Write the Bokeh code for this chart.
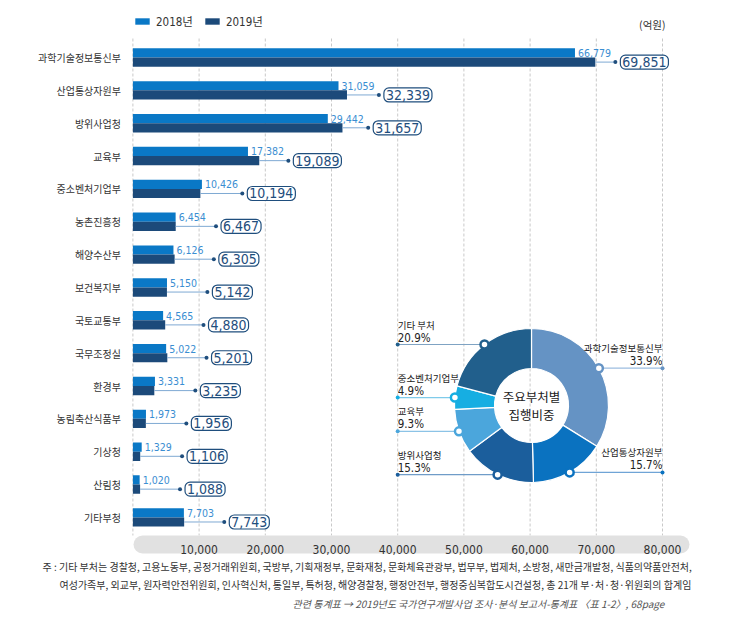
import numpy as np
from bokeh.plotting import figure
from bokeh.models import (Range1d, LinearAxis, FixedTicker, Legend, LegendItem,
                          ColumnDataSource, NumeralTickFormatter)
from bokeh.core.properties import value
from bokeh.embed import file_html
from bokeh.resources import INLINE

# ---------------- data ----------------
categories = ["과학기술정보통신부", "산업통상자원부", "방위사업청", "교육부", "중소벤처기업부",
              "농촌진흥청", "해양수산부", "보건복지부", "국토교통부", "국무조정실",
              "환경부", "농림축산식품부", "기상청", "산림청", "기타부청"]
v2018 = [66779, 31059, 29442, 17382, 10426, 6454, 6126, 5150, 4565, 5022, 3331, 1973, 1329, 1020, 7703]
v2019 = [69851, 32339, 31657, 19089, 10194, 6467, 6305, 5142, 4880, 5201, 3235, 1956, 1106, 1088, 7743]
series_names = ["2018년", "2019년"]
x_ticks = [10000, 20000, 30000, 40000, 50000, 60000, 70000, 80000]
grid_ticks = [0] + x_ticks
unit_label = "(억원)"

share_names = ["과학기술정보통신부", "산업통상자원부", "방위사업청", "교육부", "중소벤처기업부", "기타 부처"]
share_pct = [33.9, 15.7, 15.3, 9.3, 4.9, 20.9]
share_side = ["right", "right", "left", "left", "left", "left"]
donut_title = ["주요부처별", "집행비중"]

note_lines = ["주 : 기타 부처는 경찰청, 고용노동부, 공정거래위원회, 국방부, 기획재정부, 문화재청, 문화체육관광부, 법무부, 법제처, 소방청, 새만금개발청, 식품의약품안전처,",
              "여성가족부, 외교부, 원자력안전위원회, 인사혁신처, 통일부, 특허청, 해양경찰청, 행정안전부, 행정중심복합도시건설청, 총 21개 부·처·청·위원회의 합계임"]
source_line = "관련  통계표  →  2019년도  국가연구개발사업  조사·분석  보고서-통계표  〈표  1-2〉,  68page"

# ---------------- style ----------------
C2018 = "#0a78c6"
C2019 = "#1c4a7a"
C2018_TXT = "#3a8ed2"
BOX_C = "#1f4e7d"
share_colors = ["#6593c4", "#0a72c0", "#1b5e9c", "#4ba6dc", "#16aee2", "#215f8c"]
line_colors = ["#9cbde0", "#6fa4d6", "#6f9cc8", "#8cc3e6", "#7fcbea", "#7fa3c3"]
FONT = "'Liberation Sans Narrow', 'DejaVu Sans Condensed', 'Noto Sans CJK KR', sans-serif"
KFONT = "'Noto Sans CJK KR', sans-serif"

W, H = 745, 611
X0_PX = 132.4          # canvas px of value 0
PX_PER_X = 0.00662     # px per unit
ROW0_PX = 57.0         # canvas px of first row centre
PX_PER_ROW = 32.85

def xp(px):
    return (px - X0_PX) / PX_PER_X

def yp(py):
    return (py - ROW0_PX) / PX_PER_ROW

x_start, x_end = xp(0), xp(W)
y_top, y_bot = yp(0), yp(H)

p = figure(width=W, height=H, x_range=Range1d(x_start, x_end), y_range=Range1d(y_bot, y_top),
           output_backend="svg", toolbar_location=None,
           x_axis_location=None, y_axis_location=None, min_border=0)
p.outline_line_color = None
for g in p.grid:
    g.visible = False
p.background_fill_color = "white"

rows = np.arange(len(categories))
BAR_H = 0.28
y18 = rows - BAR_H / 2
y19 = rows + BAR_H / 2

# gridlines
band_top = yp(535)
p.segment(x0=grid_ticks, x1=grid_ticks, y0=[yp(38)] * len(grid_ticks), y1=[band_top] * len(grid_ticks),
          line_color="#c9c9c9", line_width=1, line_dash="3 2")

# axis band
p.quad(left=[xp(133)], right=[xp(689)], top=[band_top], bottom=[yp(553)],
       fill_color="#e1e1e1", line_color=None, border_radius=9)

# bars
src = ColumnDataSource(dict(cat=categories, v18=v2018, v19=v2019, y18=y18, y19=y19,
                            dot=[a + 6100 for a in v2018],
                            t18=[f"{v:,}" for v in v2018], t19=[f"{v:,}" for v in v2019]))
r18 = p.hbar(y="y18", right="v18", left=0, height=BAR_H, source=src, fill_color=C2018, line_color=None)
r19 = p.hbar(y="y19", right="v19", left=0, height=BAR_H, source=src, fill_color=C2019, line_color=None)

p.text(x="v18", y="y18", text="t18", source=src, x_offset=3, text_baseline="middle", text_align="left",
       text_font=value(FONT), text_font_size="10.5px", text_color=C2018_TXT)
p.segment(x0="v19", x1="dot", y0="y19", y1="y19", source=src, line_color="#7fa9d3", line_width=1)
p.scatter(x="dot", y="y19", source=src, size=4, fill_color=BOX_C, line_color=None)
p.text(x="dot", y="y19", text="t19", source=src, x_offset=5, text_baseline="middle", text_align="left",
       text_font=value(FONT), text_font_size="14px", text_color=BOX_C,
       border_line_color=BOX_C, border_line_width=1.2, border_radius=5,
       background_fill_color="white", padding=2)

# unit label
p.text(x=[80000], y=[yp(24)], text=[unit_label], x_offset=3, text_align="right", text_baseline="middle",
       text_font=value(KFONT), text_font_size="10.5px", text_color="#333333")

# axes
xaxis = LinearAxis(fixed_location=band_top, ticker=FixedTicker(ticks=x_ticks),
                   formatter=NumeralTickFormatter(format="0,0"))
xaxis.axis_line_color = None
xaxis.major_tick_line_color = None
xaxis.minor_tick_line_color = None
xaxis.major_label_standoff = 3
xaxis.major_label_text_font = FONT
xaxis.major_label_text_font_size = "12px"
xaxis.major_label_text_color = "#333333"
p.add_layout(xaxis, "below")

yaxis = LinearAxis(fixed_location=0, ticker=FixedTicker(ticks=list(rows)),
                   major_label_overrides={int(i): c for i, c in zip(rows, categories)})
yaxis.axis_line_color = None
yaxis.major_tick_line_color = None
yaxis.minor_tick_line_color = None
yaxis.major_label_standoff = 6
yaxis.major_label_text_font = KFONT
yaxis.major_label_text_font_size = "10px"
yaxis.major_label_text_color = "#333333"
p.add_layout(yaxis, "left")

# legend
legend = Legend(items=[LegendItem(label=series_names[0], renderers=[r18]),
                       LegendItem(label=series_names[1], renderers=[r19])],
                orientation="horizontal", location=(133, 582), margin=0, padding=0,
                glyph_width=18, glyph_height=8, label_height=14, label_standoff=5, spacing=10,
                label_text_font=FONT, label_text_font_size="11.5px", label_text_color="#333333",
                border_line_color=None, background_fill_alpha=0)
p.add_layout(legend)

# donut
DX, DY = xp(531), yp(405)
R_OUT, R_IN = 77, 37
fr = np.array(share_pct) / 100.0
cum = np.concatenate([[0.0], np.cumsum(fr)])
start = np.pi / 2 - cum[1:] * 2 * np.pi
end = np.pi / 2 - cum[:-1] * 2 * np.pi
p.annular_wedge(x=DX, y=DY, inner_radius=R_IN, outer_radius=R_OUT,
                inner_radius_units="screen", outer_radius_units="screen",
                start_angle=start, end_angle=end, fill_color=share_colors,
                line_color="white", line_width=1.2)
phi = (cum[:-1] + cum[1:]) / 2 * 2 * np.pi
mx = DX + R_OUT * np.sin(phi) / PX_PER_X
my = DY - R_OUT * np.cos(phi) / PX_PER_ROW
lx = [80000 if s == "right" else 40000 for s in share_side]
p.segment(x0=lx, x1=list(mx), y0=list(my), y1=list(my), line_color=line_colors, line_width=1.2)
p.scatter(x=lx, y=list(my), size=4, fill_color=share_colors, line_color=None)
p.scatter(x=list(mx), y=list(my), size=8, fill_color="white", line_color=share_colors, line_width=2.5)
aligns = ["right" if s == "right" else "left" for s in share_side]
p.text(x=lx, y=list(my - 20 / PX_PER_ROW), text=share_names, text_align=aligns, text_baseline="middle",
       text_font=value(KFONT), text_font_size="9.5px", text_color="#222222")
p.text(x=lx, y=list(my - 7 / PX_PER_ROW), text=[f"{v}%" for v in share_pct], text_align=aligns,
       text_baseline="middle", text_font=value(FONT), text_font_size="11.5px", text_color="#222222")
p.text(x=[DX, DX], y=[DY - 9 / PX_PER_ROW, DY + 9 / PX_PER_ROW], text=donut_title, text_align="center",
       text_baseline="middle", text_font=value(KFONT), text_font_size="12.5px", text_color="#222222")

# footnotes
p.text(x=[xp(42), xp(59)], y=[yp(566), yp(584)], text=note_lines, text_align="left", text_baseline="middle",
       text_font=value(KFONT), text_font_size="10px", text_color="#333333")
p.text(x=[xp(684)], y=[yp(603)], text=[source_line], text_align="right", text_baseline="middle",
       text_font=value(KFONT), text_font_size="10px", text_font_style="italic", text_color="#555555")

open("out.html", "w").write(file_html(p, INLINE))
